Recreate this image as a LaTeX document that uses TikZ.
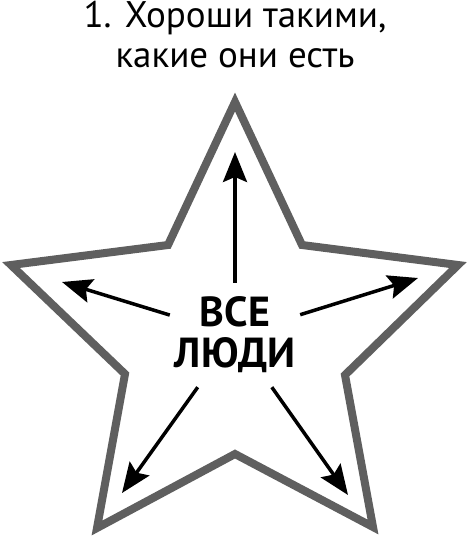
\documentclass[tikz,border=0pt]{standalone}
\usepackage{fontspec}
\setmainfont{PT Sans}
\usetikzlibrary{arrows.meta}
\definecolor{stargray}{HTML}{5F5F5F}

\begin{document}
\begin{tikzpicture}[x=1pt, y=-1pt]
      \useasboundingbox (0,0) rectangle (470,539);

      \node (title) at (235,67) [anchor=base, align=center,
        font=\fontsize{37}{40}\selectfont]
        {1. Хороши такими,\\какие они есть};

      \draw [stargray, line width=8pt, line join=miter]
        (235,102) -- (302,245) -- (458,265) -- (345,375) -- (373,527)
        -- (235,454) -- (97,528) -- (125,374) -- (11,265) -- (168,245)
        -- cycle;

      \node (people) at (235,335) [minimum width=130pt, minimum height=104pt,
        inner sep=0pt, align=center,
        font=\bfseries\fontsize{42}{41}\selectfont] {ВСЕ\\ЛЮДИ};

      {\tikzstyle{every coordinate}=[]
        \foreach \i/\x/\y in {0/235/152, 1/62/282, 2/418/278, 3/122/493, 4/348/495}
        {
          \coordinate (t\i) at (\x,\y);
        }
      }

      \foreach \i in {0, ..., 4}
      {
        \draw [line width=3.5pt, -{Stealth[length=30pt, width=24pt, inset=5pt]}]
          (people) -- (t\i);
      }
    \end{tikzpicture}
\end{document}
